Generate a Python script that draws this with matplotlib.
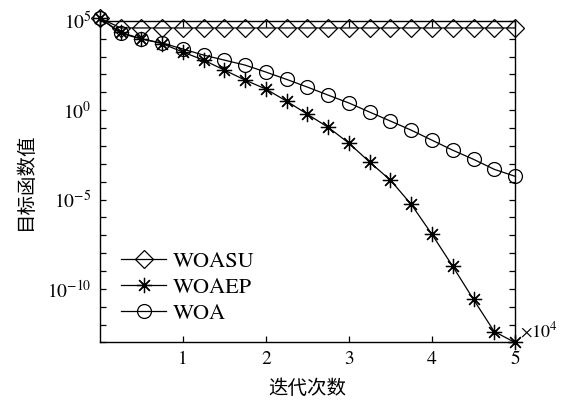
import numpy as np
import matplotlib
matplotlib.use("Agg")
import matplotlib.pyplot as plt
from matplotlib.ticker import FixedLocator, FuncFormatter, NullLocator

plt.rcParams['font.family'] = ['STIXGeneral', 'Noto Sans CJK SC', 'DejaVu Sans']
plt.rcParams['mathtext.fontset'] = 'stix'

# iterations in units of 1e4
iters = [0.0, 0.25, 0.5, 0.75, 1.0, 1.25, 1.5, 1.75, 2.0, 2.25, 2.5,
         2.75, 3.0, 3.25, 3.5, 3.75, 4.0, 4.25, 4.5, 4.75, 5.0]

# log10 of objective value
woasu_log = [5.15, 4.6, 4.6, 4.6, 4.6, 4.6, 4.6, 4.6, 4.6, 4.6, 4.6,
             4.6, 4.6, 4.6, 4.6, 4.6, 4.6, 4.6, 4.6, 4.6, 4.6]
woaep_log = [5.15, 4.35, 4.0, 3.72, 3.25, 2.80, 2.24, 1.68, 1.18, 0.50, -0.23,
             -0.96, -1.85, -2.91, -3.92, -5.27, -6.95, -8.74, -10.59, -12.39, -13.0]
woa_log = [5.15, 4.3, 3.98, 3.76, 3.42, 3.08, 2.80, 2.52, 2.13, 1.72, 1.29,
           0.84, 0.40, -0.11, -0.61, -1.12, -1.68, -2.24, -2.75, -3.31, -3.70]

labels = ['WOASU', 'WOAEP', 'WOA']

fig = plt.figure(figsize=(5.68, 4.09), dpi=100)
ax = fig.add_axes([0.176, 0.1626, 0.7307, 0.7865])

x = np.array(iters)
common = dict(color='black', lw=0.9, mfc='none', mec='black', mew=0.9, clip_on=False)
ax.plot(x, 10.0 ** np.array(woasu_log), marker='D', ms=9.5, label=labels[0], **common)
ax.plot(x, 10.0 ** np.array(woaep_log), marker=(8, 2, 0), ms=11, label=labels[1], **common)
ax.plot(x, 10.0 ** np.array(woa_log), marker='o', ms=10, label=labels[2], **common)

ax.set_yscale('log')
ax.set_xlim(0, 5)
ax.set_ylim(1e-13, 1e5)

ydec = list(range(-13, 6))
ax.yaxis.set_major_locator(FixedLocator([10.0 ** d for d in ydec]))
ax.yaxis.set_minor_locator(NullLocator())

def yfmt(v, pos):
    e = int(round(np.log10(v)))
    if e % 5 == 0:
        return r'$10^{%d}$' % e
    return ''
ax.yaxis.set_major_formatter(FuncFormatter(yfmt))

ax.xaxis.set_major_locator(FixedLocator([1, 2, 3, 4, 5]))
ax.xaxis.set_major_formatter(FuncFormatter(lambda v, p: '%d' % v))

ax.tick_params(which='both', direction='in', top=True, right=True,
               length=4.5, width=0.9, labelsize=14, pad=6)
for s in ax.spines.values():
    s.set_linewidth(1.0)

ax.text(1.012, 0.035, r'$\times10^{4}$', transform=ax.transAxes,
        fontsize=13, ha='left', va='center')

ax.set_xlabel('迭代次数', family=['Noto Sans CJK SC'], fontsize=14, labelpad=7)
ax.set_ylabel('目标函数值', family=['Noto Sans CJK SC'], fontsize=14, labelpad=8)

leg = ax.legend(loc='lower left', bbox_to_anchor=(0.03, 0.03), frameon=False,
                fontsize=16, handlelength=2.0, handletextpad=0.3,
                labelspacing=0.25, borderaxespad=0.0)

fig.savefig('out.png', dpi=100)
